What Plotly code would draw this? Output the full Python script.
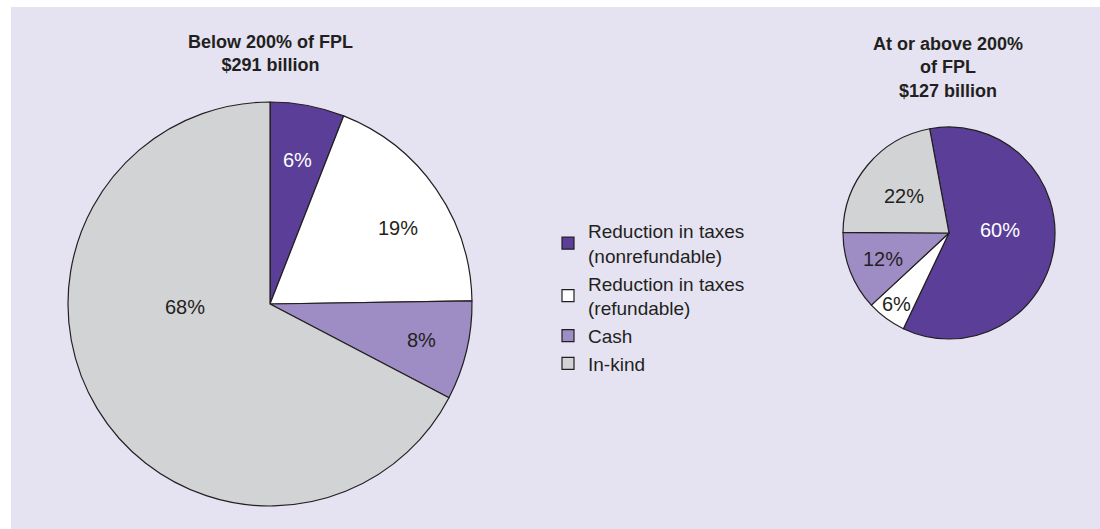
import math
import plotly.graph_objects as go

categories = ["Reduction in taxes<br>(nonrefundable)", "Reduction in taxes<br>(refundable)", "Cash", "In-kind"]
below_values = [6, 19, 8, 68]
above_values = [60, 6, 12, 22]
below_labels = ["6%", "19%", "8%", "68%"]
above_labels = ["60%", "6%", "12%", "22%"]
below_title = "<b>Below 200% of FPL<br>$291 billion</b>"
above_title = "<b>At or above 200%<br>of FPL<br>$127 billion</b>"

colors = ["#5a3e98", "#ffffff", "#9e8cc4", "#d2d3d5"]
text_colors = ["#ffffff", "#231f20", "#231f20", "#231f20"]
FONT = "Liberation Sans, Arial, Helvetica, sans-serif"

W, H = 1100, 529

# pie geometry (pixels)
L_CX, L_CY, L_R, L_ROT = 270, 304, 202, 0
R_CX, R_CY, R_R, R_ROT = 949, 233, 106, -10.5

# label placement style: radius fraction and angle offset from slice bisector
L_RAD = [0.726, 0.74, 0.77, 0.42]
L_OFF = [0, 4, 0, 29]
R_RAD = [0.48, 0.83, 0.67, 0.55]
R_OFF = [-11, 0, 0, 0]


def dom_x(cx, r):
    return [(cx - r) / W, (cx + r) / W]


def dom_y(cy, r):
    return [1 - (cy + r) / H, 1 - (cy - r) / H]


fig = go.Figure()


def add_pie(values, cx, cy, r, rot, showlegend):
    fig.add_trace(go.Pie(
        labels=categories, values=values,
        textinfo="none",
        sort=False, direction="clockwise", rotation=rot,
        marker=dict(colors=colors, line=dict(color="#231f20", width=1.2)),
        domain=dict(x=dom_x(cx, r), y=dom_y(cy, r)),
        hoverinfo="label+percent", showlegend=showlegend,
    ))


def add_labels(values, labels, cx, cy, r, rot, rads, offs):
    total = sum(values)
    cum = 0
    for v, lab, col, rf, off in zip(values, labels, text_colors, rads, offs):
        a0 = rot + 360 * cum / total
        a1 = rot + 360 * (cum + v) / total
        cum += v
        ang = math.radians((a0 + a1) / 2 + off)
        px = cx + rf * r * math.sin(ang)
        py = cy - rf * r * math.cos(ang)
        fig.add_annotation(x=px / W, y=1 - py / H, xref="paper", yref="paper",
                           text=lab, showarrow=False, xanchor="center", yanchor="middle",
                           font=dict(family=FONT, size=20, color=col))


add_pie(below_values, L_CX, L_CY, L_R, L_ROT, True)
add_pie(above_values, R_CX, R_CY, R_R, R_ROT, False)
add_labels(below_values, below_labels, L_CX, L_CY, L_R, L_ROT, L_RAD, L_OFF)
add_labels(above_values, above_labels, R_CX, R_CY, R_R, R_ROT, R_RAD, R_OFF)

fig.add_annotation(x=270 / W, y=1 - 54 / H, xref="paper", yref="paper",
                   text=below_title, showarrow=False, xanchor="center", yanchor="middle",
                   font=dict(family=FONT, size=18, color="#231f20"), align="center")
fig.add_annotation(x=948 / W, y=1 - 67 / H, xref="paper", yref="paper",
                   text=above_title, showarrow=False, xanchor="center", yanchor="middle",
                   font=dict(family=FONT, size=18, color="#231f20"), align="center")

fig.add_shape(type="rect", xref="paper", yref="paper",
              x0=11 / W, x1=1, y0=0, y1=1 - 7 / H,
              fillcolor="#e5e3f2", line=dict(width=0), layer="below")

fig.update_layout(
    width=W, height=H,
    margin=dict(l=0, r=0, t=0, b=0),
    paper_bgcolor="#ffffff",
    plot_bgcolor="rgba(0,0,0,0)",
    font=dict(family=FONT, size=19, color="#231f20"),
    legend=dict(x=548 / W, y=1 - 212 / H, xanchor="left", yanchor="top",
                bgcolor="rgba(0,0,0,0)", font=dict(family=FONT, size=19, color="#231f20"),
                traceorder="normal"),
)

fig.write_html("out.html", config={"displayModeBar": False},
               post_script="document.body.style.margin='0px';")
